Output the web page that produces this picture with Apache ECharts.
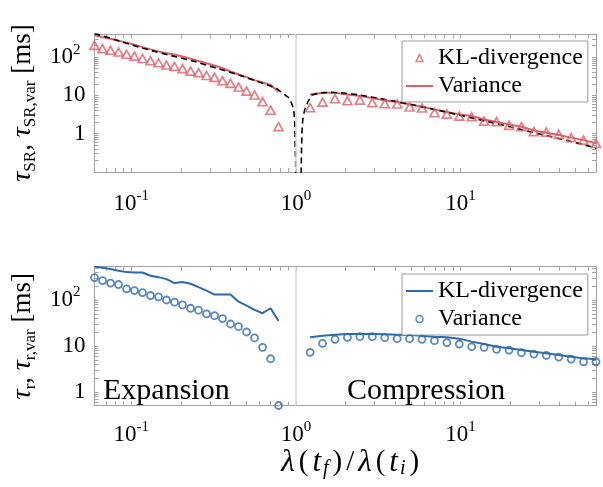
<!DOCTYPE html>
<html><head><meta charset="utf-8">
<script src="https://cdn.jsdelivr.net/npm/echarts@6/dist/echarts.min.js"></script>
<style>html,body{margin:0;padding:0;background:#fff}#c{width:603px;height:487px}</style>
</head><body><div id="c"></div>
<script>
// ---------- data ----------
const xLeft  = [0.0598,0.0669,0.0748,0.0837,0.0936,0.1046,0.1170,0.1309,0.1464,0.1637,0.1831,0.2048,0.2291,0.2562,0.2865,0.3205,0.3584,0.4009,0.4484,0.5015,0.5609,0.6274,0.7017,0.7843];
const xRight = [1.220,1.452,1.728,2.056,2.446,2.910,3.463,4.120,4.902,5.833,6.940,8.258,9.826,11.69,13.91,16.55,19.70,23.44,27.89,33.18,39.48,46.98,55.89,66.5];

// top panel
const klTopLeft  = [202,166,150,135,118,106,92,80,71,62,57,50,43,39,33,29.5,24,20.6,16.5,12.9,10.2,6.8,4.1,1.52];
const klTopRight = [4.77,6.68,8.2,7.27,7.54,6.44,6.07,5.94,4.96,4.67,3.53,3.25,2.88,2.77,2.13,2.06,1.65,1.52,1.13,1.10,0.96,0.79,0.68,0.56];
const varTopLeft  = [376,327,302,268,238,211,182,159,141,125,116,104,91,79,69,60,51,42,35,30,25,21.6,18.6,12.5];
const varTopRight = [10.6,11.7,11.7,10.6,9.6,8.5,7.4,6.7,5.8,5.07,4.31,3.66,3.19,2.88,2.36,2.01,1.75,1.52,1.22,1.06,0.92,0.79,0.68,0.56];
const thLeftX  = [0.0598,0.075,0.0935,0.118,0.149,0.19,0.2375,0.30,0.379,0.48,0.604,0.70,0.763,0.837,0.90,0.929,0.963,0.9765,0.986,0.990,0.996,0.998];
const thLeftY  = [415,310,228,170,130,100,79,58,43,31,22,17.5,15.2,11.1,8.9,7.1,4.8,3.19,1.58,0.47,0.21,0.05];
const thRightX = [1.072,1.083,1.092,1.108,1.134,1.188,1.25,1.4,1.6,1.9,2.3,3,4,5.5,7.5,10,14,20,28,40,55,66.5];
const thRightY = [0.05,0.47,1.58,2.88,4.31,7.1,10.2,11.6,12.0,11.6,10.6,8.8,7.0,5.3,4.0,3.0,2.15,1.52,1.06,0.74,0.53,0.42];

// bottom panel
const klBotLeft  = [536,502,470,432,404,396,396,336,314,284,233,245,225,190,160,131,131,131,92,75,61,51.5,66,35];
const klBotRight = [15.4,16.7,17.6,18.2,18.2,18.2,17.9,17.6,17.3,16.7,15.9,15.4,14.4,12.4,11.0,9.6,8.86,8.13,7.47,6.89,6.33,5.81,5.36,5.1];
const varBotLeft  = [308,265,233,217,175,160,145,125,117,100,89.5,78,66,60,50,45.6,39.3,30,26.2,20.1,14.9,9.3,5.26,0.505];
const varBotRight = [7.25,11.4,13.9,15.4,15.9,15.9,15.1,14.4,14.4,13.9,13.0,11.8,11.0,9.6,9.3,8.43,8.13,7.1,6.65,6.2,5.72,5.18,4.52,4.52];

// axes / labels
const X_MIN = 0.0598, X_MAX = 66.5;
const YT_MIN = 0.1, YT_MAX = 400;
const YB_MIN = 0.5, YB_MAX = 530;
const xLabelValues = [0.1, 1, 10];
const yLabelValues = [1, 10, 100];
const legendText = {klTop:'KL-divergence', varTop:'Variance', klBot:'KL-divergence', varBot:'Variance'};
const regionLabels = ['Expansion', 'Compression'];

// ---------- style ----------
const SERIF = "'Liberation Serif','DejaVu Serif','Times New Roman',serif";
const RED = '#d9606a', BLUE = '#2f6aa8', GRAY = '#a3a3a3', LIGHT = '#d4d4d4';
const TRI_PATH = 'path://M0,10L5,0L10,10Z';

function decadeTicks(lo, hi) {
  const out = [];
  for (let d = -3; d <= 3; d++) for (let k = 1; k <= 9; k++) {
    const v = k * Math.pow(10, d);
    if (v >= lo * 0.9999 && v <= hi * 1.0001) out.push(+v.toPrecision(6));
  }
  return out;
}
function isLabel(v, list) { return list.some(t => Math.abs(Math.log10(v) - Math.log10(t)) < 1e-6); }
const richX = {
  b: {fontFamily: SERIF, fontSize: 23, lineHeight: 30, color: '#000'},
  s: {fontFamily: SERIF, fontSize: 15, lineHeight: 14, verticalAlign: 'top', color: '#000'}
};
const richY = {
  b: {fontFamily: SERIF, fontSize: 23, lineHeight: 30, color: '#000'},
  s: {fontFamily: SERIF, fontSize: 15, lineHeight: 14, verticalAlign: 'top', color: '#000', padding: [0, 5, 0, 0]}
};
function xFmt(v) {
  if (!isLabel(v, xLabelValues)) return '';
  const e = Math.round(Math.log10(v));
  return '{b|10}{s|' + e + '}';
}
function yFmt(v) {
  if (!isLabel(v, yLabelValues)) return '';
  const e = Math.round(Math.log10(v));
  if (e === 0) return '{b|1}';
  if (e === 1) return '{b|10}';
  return '{b|10}{s|' + e + '}';
}
const pts = (xs, ys) => xs.map((x, i) => [x, ys[i]]);

const G = [
  {left: 94.5, right: 7, top: 34, height: 138},
  {left: 94.5, right: 7, top: 266.7, height: 139}
];

const XNAME_PAD = [0, 2, 0, 2];
function xAxes(gi, labelMargin, withName) {
  const ticks = decadeTicks(X_MIN, X_MAX);
  const base = {
    type: 'log', logBase: 10, gridIndex: gi, min: X_MIN, max: X_MAX,
    splitLine: {show: false},
    axisLine: {show: true, lineStyle: {color: GRAY, width: 1}},
    axisTick: {show: true, inside: true, length: 4, customValues: ticks, lineStyle: {color: GRAY}},
  };
  const main = Object.assign({}, base, {
    position: 'bottom',
    axisLabel: {show: true, formatter: xFmt, rich: richX, margin: labelMargin, showMinLabel: false, showMaxLabel: false}
  });
  if (withName) {
    Object.assign(main, {
      name: '{i|λ}{n|(}{i|t}{s|f}{n|)}{n|/}{i|λ}{n|(}{i|t}{s|i}{n|)}',
      nameLocation: 'middle', nameGap: 20,
      nameTextStyle: {padding: [0, 0, 0, 10], rich: {
        i: {fontFamily: SERIF, fontStyle: 'italic', fontSize: 31, lineHeight: 32, color: '#000', padding: XNAME_PAD},
        n: {fontFamily: SERIF, fontSize: 29, lineHeight: 32, color: '#000', padding: XNAME_PAD},
        s: {fontFamily: SERIF, fontStyle: 'italic', fontSize: 20, lineHeight: 18, verticalAlign: 'bottom', color: '#000', padding: [0, 2, 0, 0]}
      }}
    });
  }
  const top = Object.assign({}, base, {position: 'top', axisLabel: {show: false}});
  return [main, top];
}
function yAxes(gi, lo, hi, nameStr) {
  const ticks = decadeTicks(lo, hi);
  const base = {
    type: 'log', logBase: 10, gridIndex: gi, min: lo, max: hi,
    splitLine: {show: false},
    axisLine: {show: true, lineStyle: {color: GRAY, width: 1}},
    axisTick: {show: true, inside: true, length: 4, customValues: ticks, lineStyle: {color: GRAY}},
  };
  const main = Object.assign({}, base, {
    position: 'left',
    axisLabel: {show: true, formatter: yFmt, rich: richY, margin: 9, showMinLabel: false, showMaxLabel: false},
    name: nameStr, nameLocation: 'middle', nameRotate: 90, nameGap: 50,
    nameTextStyle: {rich: {
      i: {fontFamily: SERIF, fontStyle: 'italic', fontSize: 28, lineHeight: 32, color: '#000'},
      n: {fontFamily: SERIF, fontSize: 27, lineHeight: 32, color: '#000'},
      s: {fontFamily: SERIF, fontSize: 17, lineHeight: 14, verticalAlign: 'bottom', color: '#000'}
    }}
  });
  const right = Object.assign({}, base, {position: 'right', axisLabel: {show: false}});
  return [main, right];
}

const xA = [...xAxes(0, 17, false), ...xAxes(1, 14, true)];
const yA = [
  ...yAxes(0, YT_MIN, YT_MAX, '{i|τ}{s|SR}{n|, }{i|τ}{s|SR,var}{n| [ms]}'),
  ...yAxes(1, YB_MIN, YB_MAX, '{i|τ}{s|r}{n|, }{i|τ}{s|r,var}{n| [ms]}')
];

const vline = {
  silent: true, symbol: ['none', 'none'], label: {show: false},
  lineStyle: {color: LIGHT, width: 1.5, type: 'solid'},
  data: [{xAxis: 1}]
};

function lineS(name, data, color, xi, yi, extra) {
  return Object.assign({
    name, type: 'line', data, xAxisIndex: xi, yAxisIndex: yi,
    symbol: 'none', showSymbol: false, clip: true, animation: false,
    lineStyle: {color, width: 2}, itemStyle: {color}, z: 2
  }, extra || {});
}
const series = [
  lineS('varTop', pts(xLeft, varTopLeft), RED, 0, 0),
  lineS('varTop', pts(xRight, varTopRight), RED, 0, 0),
  lineS('theory', pts(thLeftX, thLeftY), '#000', 0, 0, {lineStyle: {color: '#000', width: 1.6, type: [6, 4]}, z: 3, markLine: vline}),
  lineS('theory', pts(thRightX, thRightY), '#000', 0, 0, {lineStyle: {color: '#000', width: 1.6, type: [6, 4]}, z: 3}),
  {name: 'klTop', type: 'scatter', xAxisIndex: 0, yAxisIndex: 0, animation: false, z: 4,
   data: pts(xLeft, klTopLeft).concat(pts(xRight, klTopRight)),
   symbol: 'triangle', symbolSize: [9, 8],
   itemStyle: {color: 'rgba(255,255,255,0)', borderColor: RED, borderWidth: 1.7}},
  lineS('klBot', pts(xLeft, klBotLeft), BLUE, 2, 2, {markLine: vline}),
  lineS('klBot', pts(xRight, klBotRight), BLUE, 2, 2),
  {name: 'varBot', type: 'scatter', xAxisIndex: 2, yAxisIndex: 2, animation: false, z: 4,
   data: pts(xLeft, varBotLeft).concat(pts(xRight, varBotRight)),
   symbol: 'circle', symbolSize: 7,
   itemStyle: {color: 'rgba(255,255,255,0)', borderColor: BLUE, borderWidth: 1.8}}
];

function legendBox(top, items) {
  return {
    orient: 'vertical', left: 402, top: top,
    itemWidth: 27, itemHeight: 7, itemGap: 4,
    padding: [5, 5, 4, 3],
    symbolKeepAspect: true,
    borderColor: '#9a9a9a', borderWidth: 1, backgroundColor: '#fff',
    textStyle: {fontFamily: SERIF, fontSize: 24, color: '#000'},
    formatter: n => legendText[n],
    selectedMode: false,
    data: items
  };
}
const hiddenSym = {color: 'rgba(0,0,0,0)', borderColor: 'rgba(0,0,0,0)', borderWidth: 0, opacity: 0};

const option = {
  backgroundColor: '#fff',
  animation: false,
  grid: G,
  xAxis: xA,
  yAxis: yA,
  legend: [
    legendBox(41, [
      {name: 'klTop', icon: TRI_PATH, itemStyle: {color: 'rgba(255,255,255,0)', borderColor: RED, borderWidth: 1.5}},
      {name: 'varTop', itemStyle: hiddenSym, lineStyle: {color: RED, width: 2}}
    ]),
    legendBox(274, [
      {name: 'klBot', itemStyle: hiddenSym, lineStyle: {color: BLUE, width: 2}},
      {name: 'varBot', icon: 'circle', itemStyle: {color: 'rgba(255,255,255,0)', borderColor: BLUE, borderWidth: 1.5}}
    ])
  ],
  graphic: [
    {type: 'text', left: 103, top: 376, z: 10, style: {text: regionLabels[0], font: '30px ' + SERIF, fill: '#000'}},
    {type: 'text', left: 347, top: 376, z: 10, style: {text: regionLabels[1], font: '30px ' + SERIF, fill: '#000'}}
  ],
  series
};
const chart = echarts.init(document.getElementById('c'), null, {renderer: 'canvas'});
chart.setOption(option);
</script>
</body></html>
